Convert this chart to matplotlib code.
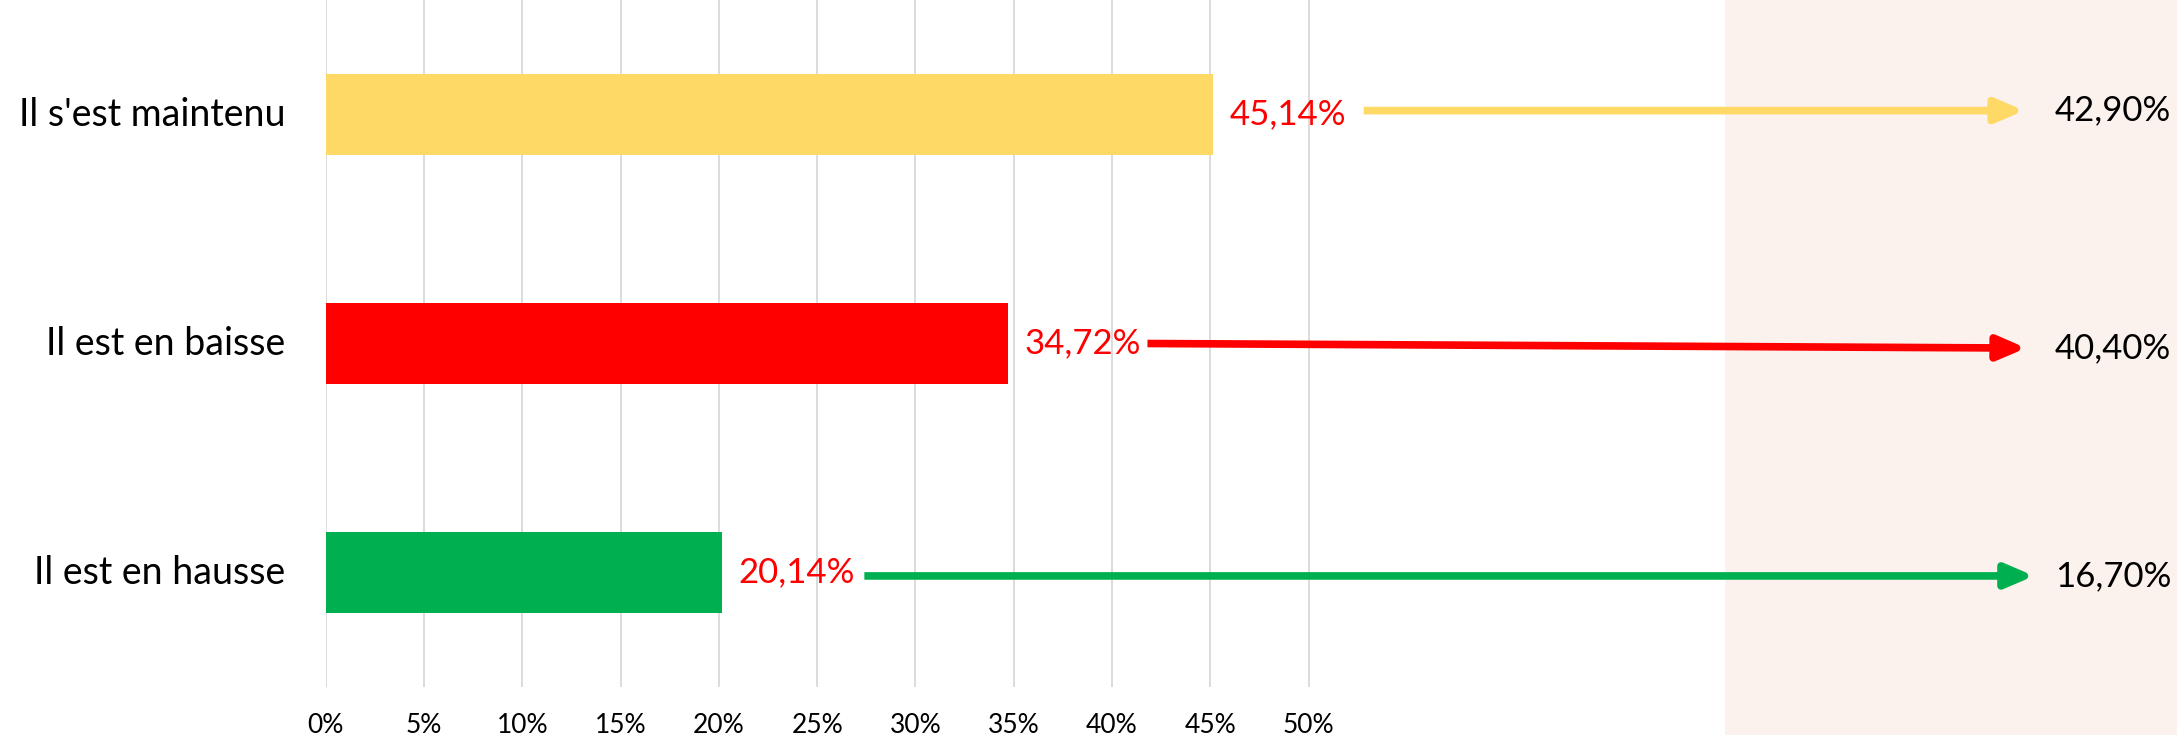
import matplotlib
matplotlib.use("Agg")
import matplotlib.pyplot as plt
import matplotlib.transforms as mtransforms
from matplotlib.patches import Rectangle, FancyArrowPatch

plt.rcParams['font.family'] = ['Lato', 'DejaVu Sans']

# data (bottom to top)
categories = ["Il est en hausse", "Il est en baisse", "Il s'est maintenu"]
current = [20.14, 34.72, 45.14]
previous = [16.70, 40.40, 42.90]
bar_colors = ["#00B050", "#FF0000", "#FFD966"]
ticks = [0, 5, 10, 15, 20, 25, 30, 35, 40, 45, 50]

# layout
arrow_start = [27.4, 41.8, 52.8]
arrow_end = [86.9, 86.5, 86.4]
arrow_dy0 = [-0.015, 0.0, 0.017]
arrow_dy1 = [-0.015, -0.02, 0.017]


def fmt(v):
    return f"{v:.2f}".replace(".", ",") + "%"


fig = plt.figure(figsize=(21.77, 7.35), dpi=100)
fig.patches.append(Rectangle((0.7924, 0), 0.21, 1, transform=fig.transFigure,
                             facecolor="#FBF2EE", edgecolor="none", zorder=0))

ax = fig.add_axes([0.1496, 0.0653, 0.8504, 0.9347])
ax.set_zorder(2)
ax.patch.set_alpha(0)
ax.set_xlim(0, 94.17)
ax.set_ylim(-0.5, 2.5)

y = list(range(len(categories)))
ax.barh(y, current, height=0.35, color=bar_colors, zorder=2)

ax.set_xticks(ticks)
ax.set_xticklabels([f"{t}%" for t in ticks], fontsize=19)
ax.set_yticks([])
ax.tick_params(axis="x", length=0, pad=19)
ax.grid(axis="x", color="#D9D9D9", lw=1.3, zorder=0)
ax.set_axisbelow(True)
for s in ax.spines.values():
    s.set_visible(False)

trans = mtransforms.blended_transform_factory(fig.transFigure, ax.transData)
for i, cat in enumerate(categories):
    ax.text(0.131, y[i], cat, ha="right", va="center", fontsize=27,
            transform=trans)
    ax.text(current[i] + 0.85, y[i], fmt(current[i]), ha="left", va="center",
            fontsize=25, color="#FF0000")
    y0 = y[i] + arrow_dy0[i]
    y1 = y[i] + arrow_dy1[i]
    arr = FancyArrowPatch((arrow_start[i], y0), (arrow_end[i], y1),
                          arrowstyle="-|>,head_length=1.4,head_width=0.6",
                          mutation_scale=12, lw=5.5, color=bar_colors[i],
                          capstyle="butt", shrinkA=0, shrinkB=0, zorder=3)
    ax.add_patch(arr)
    ax.text(87.95, y1, fmt(previous[i]), ha="left", va="center",
            fontsize=25, color="black")

fig.savefig("out.png", dpi=100)
